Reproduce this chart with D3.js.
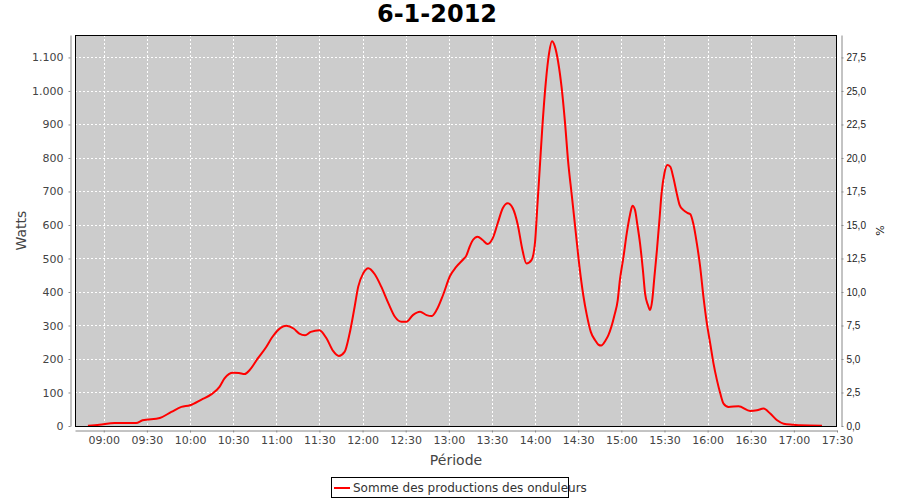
<!DOCTYPE html>
<html>
<head>
<meta charset="utf-8">
<script src="https://cdn.jsdelivr.net/npm/d3@7"></script>
<style>
html,body{margin:0;padding:0;background:#fff;}
svg{display:block;}
</style>
</head>
<body>
<svg id="chart" width="900" height="500"></svg>
<script>
const title = "6-1-2012";
const seriesName = "Somme des productions des onduleurs";
const times = ["08:49:00","08:57:00","09:07:30","09:22:30","09:27:00","09:39:00","09:47:00","09:54:00","10:00:00","10:08:00","10:15:00","10:20:30","10:24:00","10:27:00","10:30:00","10:34:00","10:38:00","10:41:30","10:47:00","10:53:00","10:57:00","11:03:00","11:07:00","11:12:00","11:16:00","11:20:00","11:24:00","11:30:00","11:35:00","11:39:30","11:43:30","11:47:30","11:51:00","11:54:30","11:57:00","12:00:30","12:04:00","12:08:30","12:13:00","12:18:00","12:22:30","12:27:00","12:30:30","12:35:00","12:40:00","12:44:30","12:48:00","12:51:30","12:56:00","13:00:45","13:05:00","13:10:00","13:12:00","13:14:30","13:16:45","13:20:00","13:23:30","13:27:00","13:30:30","13:34:00","13:37:30","13:41:00","13:44:30","13:48:00","13:51:00","13:54:00","13:57:30","14:00:00","14:01:30","14:03:15","14:05:00","14:07:30","14:09:45","14:11:45","14:13:45","14:16:00","14:18:30","14:20:45","14:23:00","14:25:30","14:28:30","14:31:00","14:33:30","14:36:00","14:38:45","14:41:45","14:44:00","14:46:00","14:49:00","14:51:00","14:55:15","14:57:30","14:59:00","15:01:30","15:03:45","15:06:00","15:07:45","15:09:30","15:11:00","15:13:00","15:15:00","15:16:30","15:18:30","15:20:00","15:21:30","15:23:00","15:24:45","15:26:30","15:28:00","15:30:00","15:32:00","15:34:00","15:36:15","15:38:30","15:40:30","15:43:00","15:46:30","15:48:00","15:50:00","15:52:30","15:54:50","15:57:05","15:59:30","16:01:50","16:04:05","16:06:30","16:08:50","16:11:05","16:14:35","16:21:30","16:29:40","16:34:20","16:38:55","16:43:35","16:48:20","16:52:55","16:59:50","17:04:30","17:19:35"];
const watts = [1,4,9,9,17,24,42,57,62,79,95,117,142,155,159,158,155,167,201,236,264,293,299,291,276,271,281,286,261,224,209,221,276,356,416,456,471,453,416,366,326,311,311,331,341,331,328,346,391,447,474,497,507,535,555,565,555,543,560,605,650,665,650,600,530,485,495,550,650,769,889,1028,1113,1148,1133,1088,1009,909,789,690,570,471,391,331,281,256,243,240,255,271,331,376,436,505,575,630,657,645,605,545,465,396,361,346,376,445,525,615,695,755,779,774,740,695,660,645,635,632,605,545,475,386,306,246,187,137,97,67,57,59,45,47,52,37,17,7,4,2,1];
const xTickLabels = ["09:00","09:30","10:00","10:30","11:00","11:30","12:00","12:30","13:00","13:30","14:00","14:30","15:00","15:30","16:00","16:30","17:00","17:30"];
const yTicks = [0,100,200,300,400,500,600,700,800,900,1000,1100];
const pctTicks = [0,2.5,5,7.5,10,12.5,15,17.5,20,22.5,25,27.5];

const parseT = d3.timeParse("%H:%M:%S");
const parseHM = d3.timeParse("%H:%M");
const data = times.map((t,i)=>({t:parseT(t), v:watts[i]}));

const svg = d3.select("#chart");
const L=75, R=837, T=35, B=426;
const x = d3.scaleTime().domain([parseHM("08:40"), parseHM("17:30")]).range([L,R]);
const y = d3.scaleLinear().domain([0,1167]).range([B,T]);
const yp = d3.scaleLinear().domain([0,1167/40]).range([B,T]);
const fmtW = v => d3.format(",")(v).replace(/,/g,".");
const fmtP = v => d3.format(".1f")(v).replace(".",",");

// plot background
svg.append("rect").attr("x",L).attr("y",T).attr("width",R-L).attr("height",B-T).attr("fill","#cccccc");

const xTickDates = xTickLabels.map(parseHM);
// gridlines
const grid = svg.append("g").attr("stroke","#ffffff").attr("stroke-width",1).attr("stroke-dasharray","2,2");
xTickDates.forEach(d=>{
  const px = Math.round(x(d))+0.5;
  grid.append("line").attr("x1",px).attr("x2",px).attr("y1",T).attr("y2",B);
});
yTicks.forEach(v=>{
  const py = Math.round(y(v))+0.5;
  grid.append("line").attr("x1",L).attr("x2",R).attr("y1",py).attr("y2",py);
});

// line
const line = d3.line().x(d=>x(d.t)).y(d=>y(d.v)).curve(d3.curveMonotoneX);
svg.append("path").datum(data).attr("d",line).attr("fill","none").attr("stroke","#ff0000").attr("stroke-width",2).attr("stroke-linejoin","round");

// plot border
svg.append("rect").attr("x",L+0.5).attr("y",T+0.5).attr("width",R-L-1).attr("height",B-T).attr("fill","none").attr("stroke","#000").attr("stroke-width",1);

// left axis
const yAxis = d3.axisLeft(y).tickValues(yTicks).tickFormat(fmtW).tickSizeInner(2).tickSizeOuter(0).tickPadding(5);
const gL = svg.append("g").attr("transform",`translate(${L-4.5},0)`).call(yAxis);
gL.selectAll("text").attr("font-family","DejaVu Sans").attr("font-size","11px").attr("fill","#444");
gL.selectAll("line,path").attr("stroke","#888");

// right axis
const pAxis = d3.axisRight(yp).tickValues(pctTicks).tickFormat(fmtP).tickSizeInner(2).tickSizeOuter(0).tickPadding(3);
const gR = svg.append("g").attr("transform",`translate(${R+4.5},0)`).call(pAxis);
gR.selectAll("text").attr("font-family","Liberation Sans").attr("font-size","10px").attr("fill","#222");
gR.selectAll("line,path").attr("stroke","#888");

// bottom axis
const xAxis = d3.axisBottom(x).tickValues(xTickDates).tickFormat(d3.timeFormat("%H:%M")).tickSizeInner(2).tickSizeOuter(0).tickPadding(4);
const gB = svg.append("g").attr("transform",`translate(0,${B+4.5})`).call(xAxis);
gB.selectAll("text").attr("font-family","DejaVu Sans").attr("font-size","11px").attr("fill","#444");
gB.selectAll("line,path").attr("stroke","#888");

// titles
svg.append("text").attr("x",437).attr("y",22).attr("text-anchor","middle")
  .attr("font-family","DejaVu Sans").attr("font-weight","bold").attr("font-size","24px").attr("fill","#000").text(title);
svg.append("text").attr("transform",`translate(26,${(T+B)/2}) rotate(-90)`).attr("text-anchor","middle")
  .attr("font-family","DejaVu Sans").attr("font-size","14px").attr("fill","#444").text("Watts");
svg.append("text").attr("transform",`translate(884,${(T+B)/2}) rotate(-90)`).attr("text-anchor","middle")
  .attr("font-family","DejaVu Sans").attr("font-size","11px").attr("fill","#222").text("%");
svg.append("text").attr("x",(L+R)/2).attr("y",465).attr("text-anchor","middle")
  .attr("font-family","DejaVu Sans").attr("font-size","14px").attr("fill","#444").text("Période");

// legend
const lg = svg.append("g");
lg.append("rect").attr("x",331.5).attr("y",477.5).attr("width",237).attr("height",20).attr("fill","#fff").attr("stroke","#000");
lg.append("line").attr("x1",334).attr("x2",350).attr("y1",488).attr("y2",488).attr("stroke","#ff0000").attr("stroke-width",2);
lg.append("text").attr("x",353).attr("y",492).attr("font-family","DejaVu Sans").attr("font-size","12px").attr("fill","#333").text(seriesName);
</script>
</body>
</html>
